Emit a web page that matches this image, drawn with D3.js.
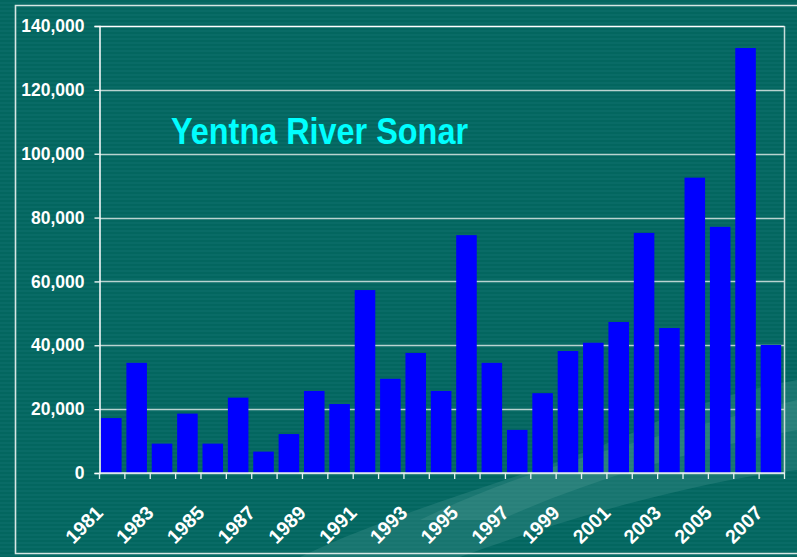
<!DOCTYPE html>
<html>
<head>
<meta charset="utf-8">
<script src="https://cdn.jsdelivr.net/npm/d3@7"></script>
<style>
  body { margin: 0; background: #03665f; }
  svg { display: block; }
  text { font-family: 'Liberation Sans', Arial, sans-serif; font-weight: bold; }
</style>
</head>
<body>
<div id="chart-area"></div>
<script>
// Yentna River Sonar counts
var years = [1981, 1982, 1983, 1984, 1985, 1986, 1987, 1988, 1989, 1990,
             1991, 1992, 1993, 1994, 1995, 1996, 1997, 1998, 1999, 2000,
             2001, 2002, 2003, 2004, 2005, 2006, 2007]
var counts = [17200, 34500, 9200, 18600, 9200, 23600, 6700, 12200, 25700, 21600,
              57300, 29500, 37600, 25700, 74500, 34500, 13500, 25000, 38200, 40800,
              47300, 75200, 45400, 92500, 77100, 133100, 40100]
var yTicks = [0, 20000, 40000, 60000, 80000, 100000, 120000, 140000]
var labelYears = years.filter(d => d % 2 === 1)
var title = 'Yentna River Sonar'

var W = 797, H = 557
var margin = { left: 99.5, right: 12.5, top: 26, bottom: 84 }
var width = W - margin.left - margin.right,
    height = H - margin.top - margin.bottom

var svg = d3.select('#chart-area')
  .append('svg')
    .attr('width', W)
    .attr('height', H)

// background with faint horizontal stripes
var defs = svg.append('defs')
var pat = defs.append('pattern')
    .attr('id', 'stripes')
    .attr('width', 8).attr('height', 4)
    .attr('patternUnits', 'userSpaceOnUse')
pat.append('rect').attr('width', 8).attr('height', 4).attr('fill', '#03665f')
pat.append('rect').attr('y', 2).attr('width', 8).attr('height', 2).attr('fill', '#096b66')

svg.append('rect')
  .attr('width', W).attr('height', H)
  .attr('fill', 'url(#stripes)')

// lighter swoosh at the bottom right
svg.append('path')
  .attr('d', 'M300,557 C420,500 560,470 660,420 C720,395 770,385 797,380 L797,470 C700,480 560,520 460,557 Z')
  .attr('fill', '#3a8c86')
  .attr('opacity', 0.4)
svg.append('path')
  .attr('d', 'M420,520 C520,470 640,440 797,400 L797,430 C690,450 590,480 500,520 Z')
  .attr('fill', '#5aa29c')
  .attr('opacity', 0.25)

// outer frame
svg.append('path')
  .attr('d', 'M800,5.5 H15.5 V553.5 H800')
  .attr('fill', 'none')
  .attr('stroke', '#d6e6e4')
  .attr('stroke-width', 1.6)

var g = svg.append('g')
    .attr('transform', 'translate(' + margin.left + ', ' + margin.top + ')')

var x = d3.scaleBand()
    .domain(years)
    .range([0, width])
    .padding(0)

var y = d3.scaleLinear()
    .domain([0, 140000])
    .range([height, 0])

// gridlines
g.selectAll('.grid')
  .data(yTicks)
  .enter()
  .append('line')
    .attr('class', 'grid')
    .attr('x1', 0)
    .attr('x2', width)
    .attr('y1', d => Math.round(y(d)) + 0.5)
    .attr('y2', d => Math.round(y(d)) + 0.5)
    .attr('stroke', d => d === 140000 ? '#ffffff' : '#b9d3d0')
    .attr('stroke-width', 1.3)

// right edge
g.append('line')
  .attr('x1', width).attr('x2', width)
  .attr('y1', 0).attr('y2', height)
  .attr('stroke', '#c8dcda')
  .attr('stroke-width', 1.5)

// bars
g.selectAll('.bar')
  .data(years)
  .enter()
  .append('rect')
    .attr('class', 'bar')
    .attr('x', d => x(d) + x.bandwidth() * 0.06)
    .attr('width', x.bandwidth() * 0.81)
    .attr('y', (d, i) => y(counts[i]))
    .attr('height', (d, i) => height - y(counts[i]))
    .attr('fill', '#0000ff')

// y axis
var yAxisCall = d3.axisLeft(y)
    .tickValues(yTicks)
    .tickSize(5)
    .tickPadding(10)
    .tickFormat(d3.format(','))
var yAxis = g.append('g')
    .attr('class', 'y axis')
    .call(yAxisCall)
yAxis.select('.domain').attr('stroke', '#ffffff').attr('stroke-width', 1.5)
yAxis.selectAll('line').attr('stroke', '#ffffff').attr('stroke-width', 1.3)
yAxis.selectAll('text')
    .attr('fill', '#ffffff')
    .attr('font-size', '17.5px')
    .attr('font-family', "'Liberation Sans', Arial, sans-serif")
    .attr('font-weight', 'bold')

// x axis line and ticks at band edges
var xg = g.append('g')
    .attr('class', 'x axis')
    .attr('transform', 'translate(0,' + height + ')')
xg.append('line')
  .attr('x1', 0).attr('x2', width)
  .attr('y1', 0).attr('y2', 0)
  .attr('stroke', '#e6f0ef')
  .attr('stroke-width', 1.5)
var edges = years.map(d => x(d)).concat([width])
xg.selectAll('.tick')
  .data(edges)
  .enter()
  .append('line')
    .attr('class', 'tick')
    .attr('x1', d => d).attr('x2', d => d)
    .attr('y1', 0).attr('y2', 6)
    .attr('stroke', '#e6f0ef')
    .attr('stroke-width', 1.3)

xg.selectAll('.xlabel')
  .data(labelYears)
  .enter()
  .append('text')
    .attr('class', 'xlabel')
    .attr('x', d => x(d) + x.bandwidth() / 2 - 8)
    .attr('y', 41)
    .attr('transform', d => 'rotate(-45,' + (x(d) + x.bandwidth() / 2 - 8) + ',41)')
    .attr('text-anchor', 'end')
    .attr('font-size', '19.5px')
    .attr('fill', '#ffffff')
    .text(d => d)

// title
svg.append('text')
  .attr('x', 171)
  .attr('y', 144)
  .attr('font-size', '37px')
  .attr('fill', '#00ffff')
  .attr('textLength', 297)
  .attr('lengthAdjust', 'spacingAndGlyphs')
  .text(title)
</script>
</body>
</html>
